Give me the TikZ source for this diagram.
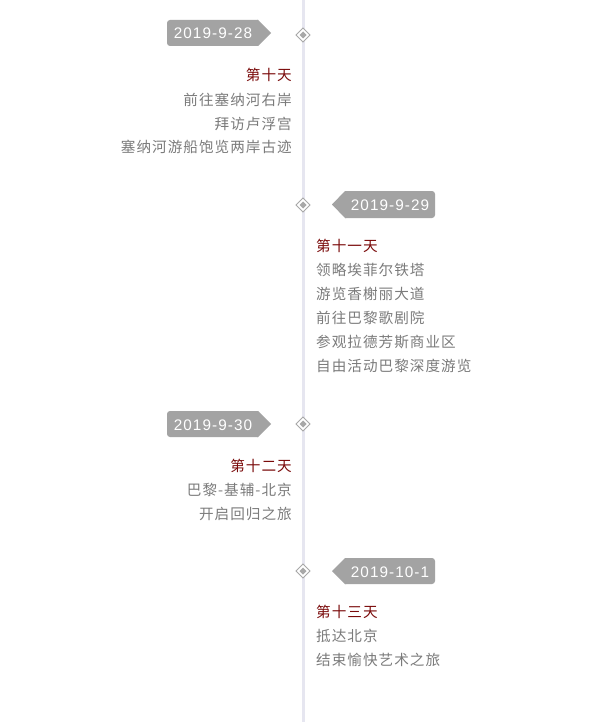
\documentclass[tikz,border=0pt]{standalone}
\usepackage{fontspec}
\newfontfamily\cjk[LetterSpace=7]{Noto Sans CJK SC}
\newfontfamily\datefont[LetterSpace=7]{Liberation Sans}
\definecolor{tagfill}{HTML}{A3A3A3}
\definecolor{txtgray}{HTML}{7B7B7B}
\definecolor{dayred}{HTML}{7A0A0A}
\definecolor{linecol}{HTML}{E6E6F0}
\definecolor{dmdcol}{HTML}{A8A8A8}
\tikzset{
  daytxt/.style={font=\cjk\fontsize{14.6}{17}\selectfont, text=dayred, inner sep=0pt},
  itemtxt/.style={font=\cjk\fontsize{14.6}{17}\selectfont, text=txtgray, inner sep=0pt},
  datetxt/.style={font=\datefont\fontsize{15.3}{18}\selectfont, text=white, inner sep=0pt},
  tagshape/.style={fill=tagfill, draw=none},
  outerdmd/.style={fill=white, draw=dmdcol, line width=1pt},
  innerdmd/.style={fill=dmdcol, draw=none}
}
\newcommand{\mydiamond}[2]{%
  \path[outerdmd] (303,#1) ++(0,-7) -- ++(7,7) -- ++(-7,7) -- ++(-7,-7) -- cycle;
  \path[innerdmd] (303,#1) ++(0,-3.5) -- ++(3.5,3.5) -- ++(-3.5,3.5) -- ++(-3.5,-3.5) -- cycle;
  \coordinate (#2) at (303,#1);
}
\begin{document}
\begin{tikzpicture}[x=1pt,y=-1pt]
\useasboundingbox (0,0) rectangle (615,722);
\fill[white] (0,0) rectangle (615,722);
% timeline
\coordinate (ltop) at (303,0);
\coordinate (lbot) at (303,722);
\draw[linecol, line width=3pt] (ltop) -- (lbot);
% diamonds
\mydiamond{35}{d1}
\mydiamond{205}{d2}
\mydiamond{424}{d3}
\mydiamond{571}{d4}
% tag 1 (left)
\path[tagshape, rounded corners=3pt] (258,20) -- (167,20) -- (167,46) -- (258,46);
\path[tagshape] (257,20) -- (258,20) -- (271,33) -- (258,46) -- (257,46) -- cycle;
\node[datetxt, anchor=base] (t1) at (213,39) {2019-9-28};
% tag 2 (right)
\path[tagshape, rounded corners=3pt] (345,191) -- (435,191) -- (435,218) -- (345,218);
\path[tagshape] (346,191) -- (345,191) -- (332,204.5) -- (345,218) -- (346,218) -- cycle;
\node[datetxt, anchor=base] (t2) at (390,210) {2019-9-29};
% tag 3 (left)
\path[tagshape, rounded corners=3pt] (258,411) -- (167,411) -- (167,437) -- (258,437);
\path[tagshape] (257,411) -- (258,411) -- (271,424) -- (258,437) -- (257,437) -- cycle;
\node[datetxt, anchor=base] (t3) at (213,430) {2019-9-30};
% tag 4 (right)
\path[tagshape, rounded corners=3pt] (345,558) -- (435,558) -- (435,584) -- (345,584);
\path[tagshape] (346,558) -- (345,558) -- (332,571) -- (345,584) -- (346,584) -- cycle;
\node[datetxt, anchor=base] (t4) at (390,577) {2019-10-1};
% day 1 text (right aligned)
\node[daytxt, anchor=base east] (a0) at (292,81) {第十天};
\node[itemtxt, anchor=base east] (a1) at (292,105.5) {前往塞纳河右岸};
\node[itemtxt, anchor=base east] (a2) at (292,129.5) {拜访卢浮宫};
\node[itemtxt, anchor=base east] (a3) at (292,153) {塞纳河游船饱览两岸古迹};
% day 2 text (left aligned)
\node[daytxt, anchor=base west] (b0) at (316,251.5) {第十一天};
\node[itemtxt, anchor=base west] (b1) at (316,275.5) {领略埃菲尔铁塔};
\node[itemtxt, anchor=base west] (b2) at (316,299.5) {游览香榭丽大道};
\node[itemtxt, anchor=base west] (b3) at (316,323.5) {前往巴黎歌剧院};
\node[itemtxt, anchor=base west] (b4) at (316,347.5) {参观拉德芳斯商业区};
\node[itemtxt, anchor=base west] (b5) at (316,371.5) {自由活动巴黎深度游览};
% day 3 text (right aligned)
\node[daytxt, anchor=base east] (c0) at (292,471.5) {第十二天};
\node[itemtxt, anchor=base east] (c1) at (292,495.5) {巴黎-基辅-北京};
\node[itemtxt, anchor=base east] (c2) at (292,519) {开启回归之旅};
% day 4 text (left aligned)
\node[daytxt, anchor=base west] (e0) at (316,617.5) {第十三天};
\node[itemtxt, anchor=base west] (e1) at (316,641.5) {抵达北京};
\node[itemtxt, anchor=base west] (e2) at (316,665.5) {结束愉快艺术之旅};
\end{tikzpicture}
\end{document}
